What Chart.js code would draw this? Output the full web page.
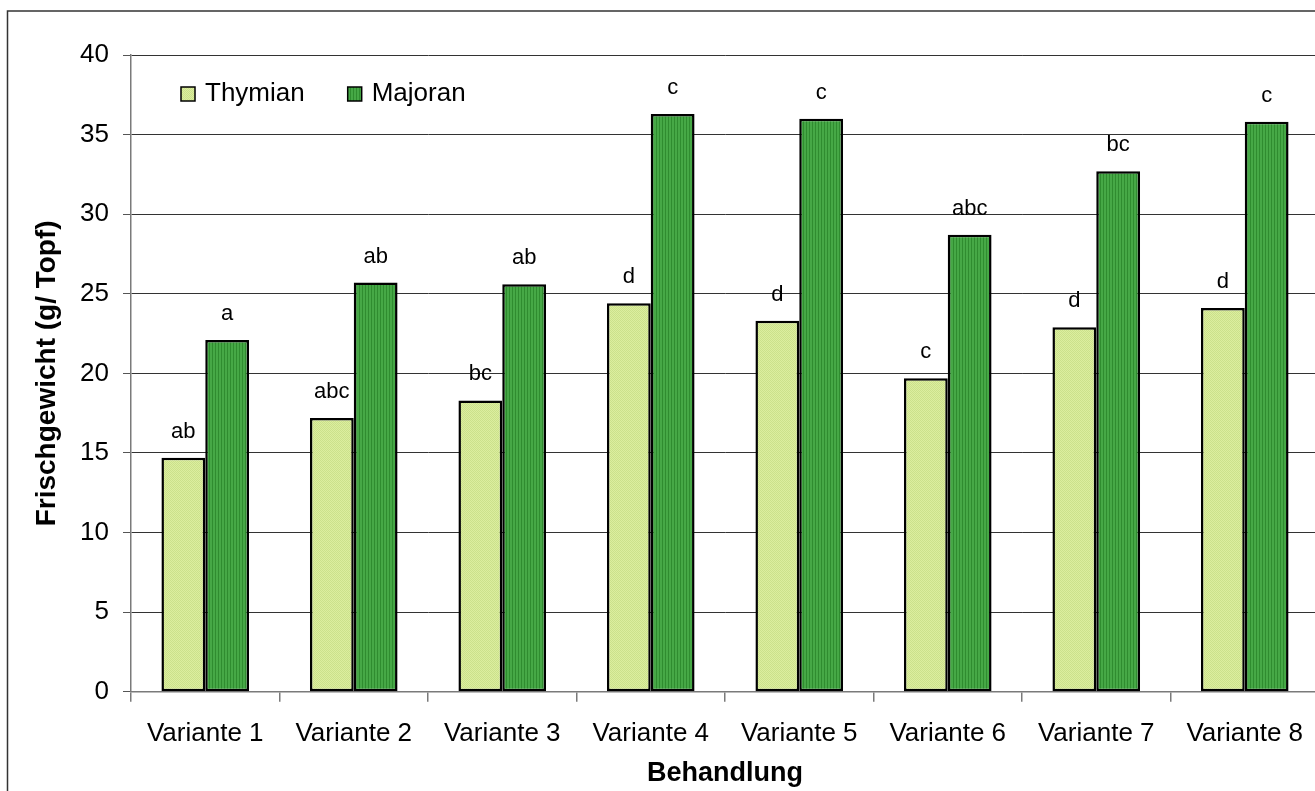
<!DOCTYPE html>
<html>
<head>
<meta charset="utf-8">
<script src="https://cdn.jsdelivr.net/npm/chart.js@4/dist/chart.umd.min.js"></script>
<style>
  html, body { margin: 0; padding: 0; background: #fff; overflow: hidden; }
  #wrap { width: 1325px; height: 791px; }
</style>
</head>
<body>
<div id="wrap"><canvas id="c" width="1325" height="791"></canvas></div>
<script>
// ---- data ----
const categories = ['Variante 1','Variante 2','Variante 3','Variante 4','Variante 5','Variante 6','Variante 7','Variante 8'];
const thymian = [14.7, 17.2, 18.3, 24.4, 23.3, 19.7, 22.9, 24.1];
const majoran = [22.1, 25.7, 25.6, 36.3, 36.0, 28.7, 32.7, 35.8];
const thymianLetters = ['ab','abc','bc','d','d','c','d','d'];
const majoranLetters = ['a','ab','ab','c','c','abc','bc','c'];
const yMin = 0, yMax = 40, yStep = 5;

const FONT = "'Liberation Sans', Arial, sans-serif";

function makePattern(w, h, draw) {
  const c = document.createElement('canvas');
  c.width = w; c.height = h;
  const g = c.getContext('2d');
  draw(g);
  return g.createPattern(c, 'repeat');
}
const thymianFill = makePattern(2, 2, g => {
  g.fillStyle = '#dcee9f'; g.fillRect(0, 0, 2, 2);
  g.fillStyle = '#cbe18b'; g.fillRect(0, 0, 1, 1); g.fillRect(1, 1, 1, 1);
});
const majoranFill = makePattern(3, 1, g => {
  g.fillStyle = '#46a846'; g.fillRect(0, 0, 3, 1);
  g.fillStyle = '#2f8c2f'; g.fillRect(2, 0, 1, 1);
});

const frame = {
  id: 'frame',
  beforeDraw(chart) {
    const ctx = chart.ctx;
    ctx.save();
    ctx.strokeStyle = '#333';
    ctx.lineWidth = 1.5;
    ctx.strokeRect(7.5, 11, 3000, 3000);
    ctx.restore();
  }
};

const letters = {
  id: 'letters',
  afterDatasetsDraw(chart) {
    const ctx = chart.ctx;
    const sets = [thymianLetters, majoranLetters];
    ctx.save();
    ctx.font = '22px ' + FONT;
    ctx.fillStyle = '#000';
    ctx.textAlign = 'center';
    ctx.textBaseline = 'middle';
    chart.data.datasets.forEach((ds, di) => {
      chart.getDatasetMeta(di).data.forEach((el, i) => {
        ctx.fillText(sets[di][i], el.x, el.y - 26);
      });
    });
    ctx.restore();
  }
};

const innerLegend = {
  id: 'innerLegend',
  afterDraw(chart) {
    const ctx = chart.ctx;
    const area = chart.chartArea;
    let x = area.left + 50;
    const y = 94;
    ctx.save();
    ctx.font = '26px ' + FONT;
    ctx.textBaseline = 'middle';
    ctx.textAlign = 'left';
    chart.data.datasets.forEach(ds => {
      ctx.fillStyle = ds.backgroundColor;
      ctx.fillRect(x, y - 7, 14, 14);
      ctx.strokeStyle = '#000';
      ctx.lineWidth = 1.5;
      ctx.strokeRect(x, y - 7, 14, 14);
      ctx.fillStyle = '#000';
      ctx.fillText(ds.label, x + 24, y);
      x += 24 + ctx.measureText(ds.label).width + 43;
    });
    ctx.restore();
  }
};

new Chart(document.getElementById('c'), {
  type: 'bar',
  data: {
    labels: categories,
    datasets: [
      { label: 'Thymian', data: thymian, backgroundColor: thymianFill, borderColor: '#000', borderWidth: 2.5, borderSkipped: false },
      { label: 'Majoran', data: majoran, backgroundColor: majoranFill, borderColor: '#000', borderWidth: 2.5, borderSkipped: false }
    ]
  },
  options: {
    responsive: false,
    animation: false,
    events: [],
    layout: { padding: { left: 8, top: 55, right: 6, bottom: 0 } },
    datasets: { bar: { categoryPercentage: 0.59, barPercentage: 1.0 } },
    plugins: { legend: { display: false }, tooltip: { enabled: false }, title: { display: false } },
    scales: {
      x: {
        afterFit(s) { s.height = 99.3; },
        offset: true,
        grid: { display: true, drawOnChartArea: false, drawTicks: true, tickLength: 10, offset: true, color: '#7a7a7a', lineWidth: 1.5 },
        border: { display: true, color: '#7a7a7a', width: 1.5 },
        ticks: { color: '#000', font: { family: FONT, size: 26 }, padding: 17, maxRotation: 0, autoSkip: false },
        title: { display: true, text: 'Behandlung', color: '#000', font: { family: FONT, size: 27, weight: 'bold' }, padding: { top: 0, bottom: 1 } }
      },
      y: {
        afterFit(s) { s.width = 123; },
        min: yMin, max: yMax,
        grid: {
          color: ctx => (ctx.tick && ctx.tick.value === 0) ? '#7a7a7a' : '#333',
          lineWidth: 1, tickLength: 8, tickColor: '#555'
        },
        border: { display: true, color: '#7a7a7a', width: 1.5 },
        ticks: { stepSize: yStep, color: '#000', font: { family: FONT, size: 26 }, padding: 14 },
        title: { display: true, text: 'Frischgewicht (g/ Topf)', color: '#000', font: { family: FONT, size: 28, weight: 'bold' }, padding: { top: 22, bottom: 0 } }
      }
    }
  },
  plugins: [frame, letters, innerLegend]
});
</script>
</body>
</html>
